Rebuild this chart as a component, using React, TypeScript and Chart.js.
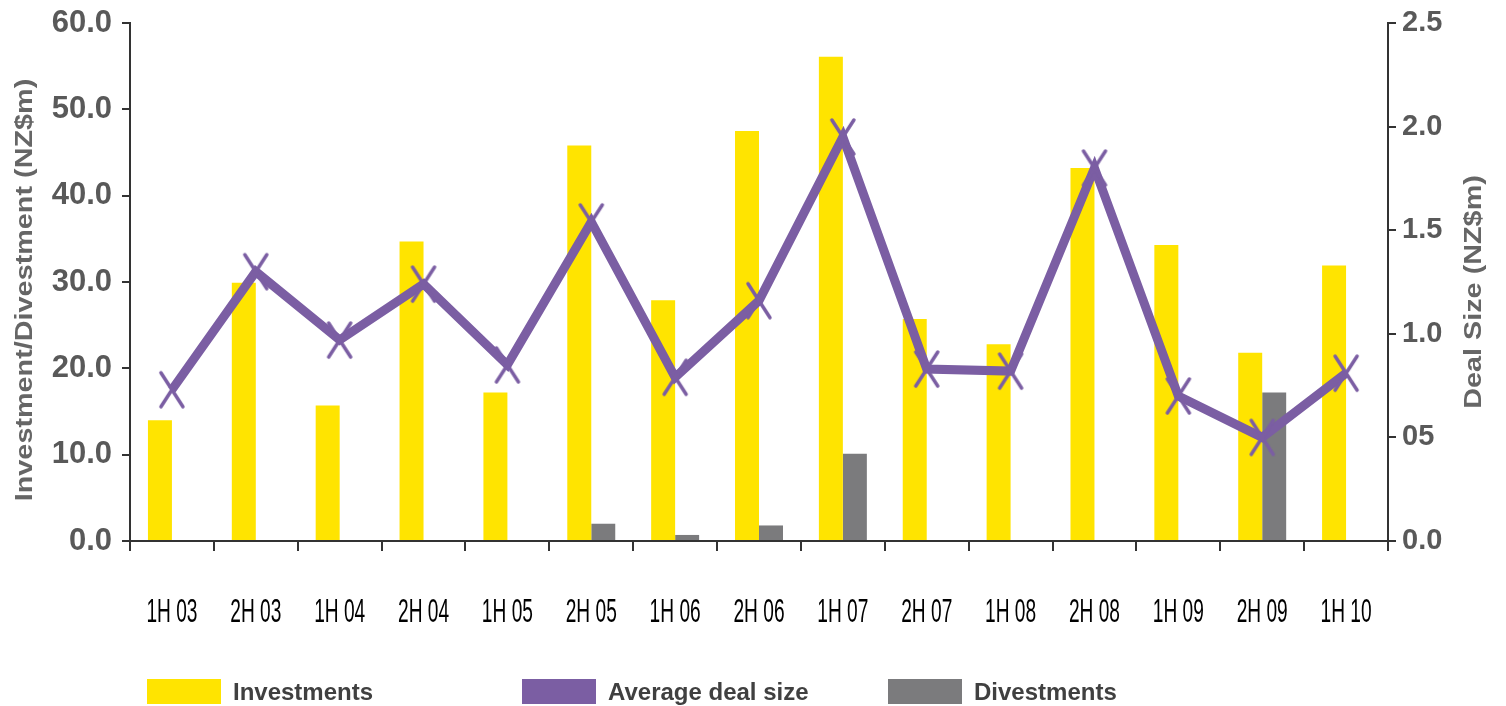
import React, { useEffect, useRef } from 'react';
import { Chart, registerables } from 'chart.js';

Chart.register(...registerables);

const categories = ['1H 03', '2H 03', '1H 04', '2H 04', '1H 05', '2H 05', '1H 06', '2H 06', '1H 07', '2H 07', '1H 08', '2H 08', '1H 09', '2H 09', '1H 10'];
const investments = [14.0, 29.9, 15.7, 34.7, 17.2, 45.8, 27.9, 47.5, 56.1, 25.7, 22.8, 43.2, 34.3, 21.8, 31.9];
const divestments = [0, 0, 0, 0, 0, 2.0, 0.7, 1.8, 10.1, 0, 0, 0, 0, 17.2, 0];
const avgDealSize = [0.73, 1.3, 0.97, 1.24, 0.85, 1.54, 0.79, 1.16, 1.95, 0.83, 0.82, 1.8, 0.7, 0.5, 0.81];
const rightTickLabels = ['0.0', '05', '1.0', '1.5', '2.0', '2.5'];
const leftTitle = 'Investment/Divestment (NZ$m)';
const rightTitle = 'Deal Size (NZ$m)';
const legendItems = [
  { label: 'Investments', color: '#FFE400', left: 147 },
  { label: 'Average deal size', color: '#7B5EA3', left: 522 },
  { label: 'Divestments', color: '#7B7B7D', left: 888 },
];

const YELLOW = '#FFE400';
const PURPLE = '#7B5EA3';
const GREY = '#7B7B7D';
const FONT = '"Liberation Sans", Arial, sans-serif';

function makeMarker(): HTMLCanvasElement {
  const c = document.createElement('canvas');
  c.width = 28;
  c.height = 40;
  const ctx = c.getContext('2d')!;
  ctx.strokeStyle = PURPLE;
  ctx.lineWidth = 3.5;
  ctx.lineCap = 'round';
  ctx.beginPath();
  ctx.moveTo(3, 3);
  ctx.lineTo(25, 37);
  ctx.moveTo(25, 3);
  ctx.lineTo(3, 37);
  ctx.stroke();
  return c;
}

const textPlugin = {
  id: 'condensedText',
  afterDraw(chart: any) {
    const ctx = chart.ctx as CanvasRenderingContext2D;
    const drawTitle = (text: string, x: number, y: number) => {
      ctx.save();
      ctx.translate(x, y);
      ctx.rotate(-Math.PI / 2);
      ctx.scale(1.2, 1);
      ctx.font = `bold 24px ${FONT}`;
      ctx.fillStyle = '#666666';
      ctx.textAlign = 'center';
      ctx.textBaseline = 'middle';
      ctx.fillText(text, 0, 0);
      ctx.restore();
    };
    drawTitle(leftTitle, 25, 290);
    drawTitle(rightTitle, 1474, 292);

    // category labels, condensed, placed with the x scale
    const xs = chart.scales.x;
    categories.forEach((label, i) => {
      const px = xs.getPixelForValue(i);
      ctx.save();
      ctx.translate(px, 613);
      ctx.scale(0.58, 1);
      ctx.font = `33px ${FONT}`;
      ctx.fillStyle = '#000000';
      ctx.textAlign = 'center';
      ctx.textBaseline = 'middle';
      ctx.fillText(label, 0, 0);
      ctx.restore();
    });
  },
};

const noPad = (s: any) => {
  s.paddingTop = 0;
  s.paddingBottom = 0;
};

export default function App() {
  const ref = useRef<HTMLCanvasElement | null>(null);

  useEffect(() => {
    if (!ref.current) return;
    const marker = makeMarker();
    const chart = new Chart(ref.current, {
      type: 'bar',
      data: {
        labels: categories,
        datasets: [
          {
            type: 'line',
            label: 'Average deal size',
            data: avgDealSize,
            yAxisID: 'y1',
            borderColor: PURPLE,
            backgroundColor: PURPLE,
            borderWidth: 9,
            tension: 0,
            pointStyle: marker as any,
            pointRadius: 14,
            order: 0,
          } as any,
          {
            type: 'bar',
            label: 'Investments',
            data: investments,
            yAxisID: 'y',
            backgroundColor: YELLOW,
            categoryPercentage: 0.572,
            barPercentage: 1,
            order: 1,
          },
          {
            type: 'bar',
            label: 'Divestments',
            data: divestments,
            yAxisID: 'y',
            backgroundColor: GREY,
            categoryPercentage: 0.572,
            barPercentage: 1,
            order: 1,
          },
        ],
      },
      options: {
        responsive: false,
        animation: false,
        layout: { padding: { top: 21, left: 0, right: 0, bottom: 0 } },
        plugins: { legend: { display: false }, tooltip: { enabled: false } },
        scales: {
          x: {
            grid: { drawOnChartArea: false, color: '#333333', tickLength: 10, offset: true, lineWidth: 2 },
            border: { color: '#333333', width: 2 },
            ticks: { display: false, autoSkip: false, maxRotation: 0 },
            afterFit: (s: any) => { s.height = 165; },
          },
          y: {
            position: 'left',
            min: 0,
            max: 60,
            grid: { drawOnChartArea: false, color: '#333333', tickLength: 8, lineWidth: 2 },
            border: { color: '#333333', width: 2 },
            ticks: {
              stepSize: 10,
              color: '#595959',
              font: { family: FONT, size: 31, weight: 'bold' },
              padding: 10,
              callback: (v: any) => Number(v).toFixed(1),
            },
            afterFit: (s: any) => { s.width = 130; noPad(s); },
          },
          y1: {
            position: 'right',
            min: 0,
            max: 2.5,
            grid: { drawOnChartArea: false, color: '#333333', tickLength: 8, lineWidth: 2 },
            border: { color: '#333333', width: 2 },
            ticks: {
              stepSize: 0.5,
              color: '#595959',
              font: { family: FONT, size: 29, weight: 'bold' },
              padding: 6,
              callback: (v: any) => rightTickLabels[Math.round(Number(v) / 0.5)],
            },
            afterFit: (s: any) => { s.width = 118; noPad(s); },
          },
        },
      } as any,
      plugins: [textPlugin],
    });
    return () => chart.destroy();
  }, []);

  return (
    <div style={{ position: 'absolute', left: 0, top: 0, width: 1506, height: 706, background: '#ffffff' }}>
      <canvas ref={ref} width={1506} height={706} style={{ display: 'block' }} />
      {legendItems.map((it) => (
        <div key={it.label} style={{ position: 'absolute', left: it.left, top: 679, height: 25, display: 'flex', alignItems: 'center' }}>
          <div style={{ width: 74, height: 25, background: it.color }} />
          <span style={{ marginLeft: 12, fontFamily: FONT, fontWeight: 'bold', fontSize: 24, color: '#404040', whiteSpace: 'nowrap' }}>{it.label}</span>
        </div>
      ))}
    </div>
  );
}
